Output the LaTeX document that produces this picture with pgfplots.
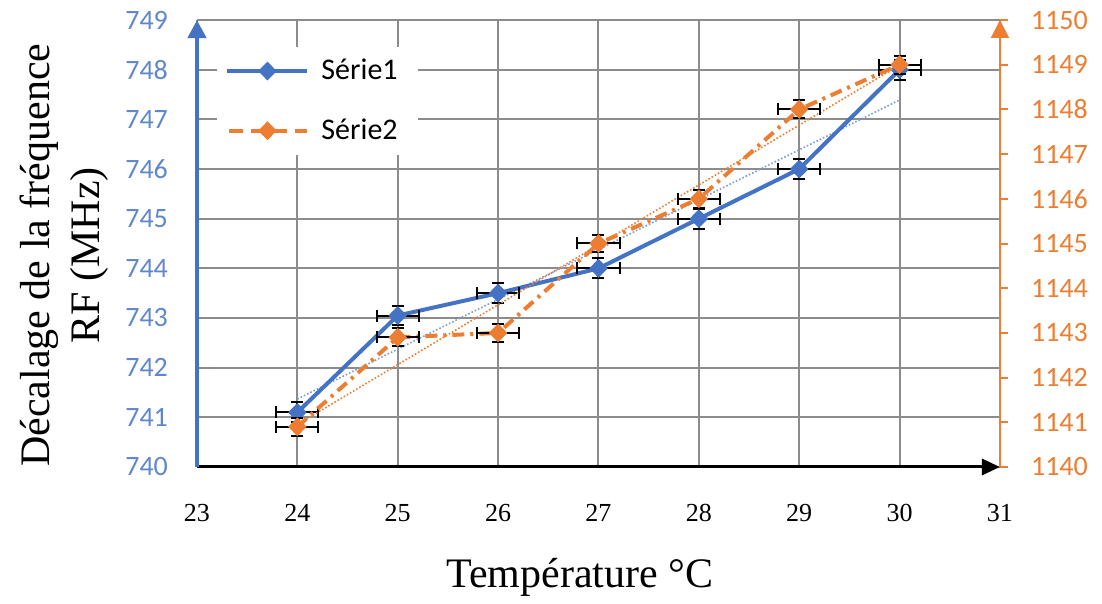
\documentclass[border=0pt]{standalone}
\usepackage{fontspec}
\setmainfont{Liberation Serif}
\newfontfamily\calibri{Carlito}
\usepackage{pgfplots}
\pgfplotsset{compat=1.18}
\usetikzlibrary{arrows.meta}
\definecolor{sblue}{HTML}{4472C4}
\definecolor{sorange}{HTML}{ED7D31}
\definecolor{gridgray}{HTML}{8C8C8C}
\begin{document}
\begin{tikzpicture}
\path[use as bounding box] (-98.5pt,-68.5pt) rectangle (452.5pt,233.5pt);
\pgfplotsset{
  every axis/.append style={scale only axis, width=401.5pt, height=223.5pt,
    xmin=23, xmax=31, /pgf/number format/assume math mode=true,
    /pgf/number format/1000 sep={}},
  myerr/.style={error bars/.cd, x dir=both, x fixed=0.21, y dir=both, y fixed=0.2,
    error bar style={black, solid, line width=1pt},
    error mark options={rotate=90, black, solid, mark size=3pt, line width=1pt}},
}
\begin{axis}[
  ymin=740, ymax=749, ytick={740,...,749}, xtick={23,...,31},
  axis x line=bottom, axis y line=left,
  x axis line style={black, line width=1.5pt, -{Triangle[length=9pt,width=8pt]}},
  y axis line style={sblue, line width=2pt, -{Triangle[length=9pt,width=9pt]}},
  grid=major, major grid style={gridgray, line width=1pt},
  major tick length=0pt,
  yticklabel style={font=\calibri\fontsize{14}{16}\selectfont, text=sblue!85, xshift=-11pt},
  xticklabel style={font=\fontsize{13}{15}\selectfont, yshift=-15pt},
  xlabel={Température °C},
  xlabel style={font=\fontsize{21}{24}\selectfont, at={(axis description cs:0.477,-0.248)}, anchor=center},
  ylabel={Décalage de la fréquence\\RF (MHz)},
  ylabel style={font=\fontsize{21}{25}\selectfont, align=center, at={(axis description cs:-0.165,0.474)}, anchor=center},
  legend style={at={(axis description cs:0.025,0.94)}, anchor=north west, draw=none, fill=white,
    font=\calibri\fontsize{15}{18}\selectfont, row sep=14pt, inner sep=4pt,
    nodes={inner xsep=6pt}},
  legend cell align=left,
  legend image code/.code={\draw[mark repeat=2,mark phase=2] plot coordinates {(0pt,0pt)(20pt,0pt)(40pt,0pt)};},
]
\addplot[sblue!70, line width=0.8pt, densely dotted, forget plot] coordinates {(24,741.37)(30,747.39)};
\addplot[sblue, line width=2pt, mark=diamond*, mark size=3.3pt, mark options={fill=sblue, xscale=1.3}, myerr]
  coordinates {(24,741.1)(25,743.05)(26,743.5)(27,744)(28,745)(29,746)(30,748)};
\addlegendentry{Série1}
\addlegendimage{sorange, line width=2pt, dash pattern=on 7pt off 4pt, dash phase=-1pt, mark=diamond*, mark size=3.3pt, mark options={solid, fill=sorange, xscale=1.3}}
\addlegendentry{Série2}
\end{axis}
\begin{axis}[
  ymin=1140, ymax=1150, ytick={1140,...,1150}, xtick=\empty,
  axis y line=right, axis x line=none,
  y axis line style={sorange, line width=1pt, -{Triangle[length=9pt,width=9pt]}},
  ytick style={sorange, line width=1pt}, tick align=outside, major tick length=4pt,
  yticklabel style={font=\calibri\fontsize{14}{16}\selectfont, text=sorange, xshift=8pt},
]
\addplot[sorange, line width=0.8pt, densely dotted] coordinates {(24,1140.95)(30,1148.99)};
\addplot[sorange, line width=2pt, dash pattern=on 6pt off 3pt on 1.5pt off 3pt, mark=diamond*, mark size=3.3pt, mark options={solid, fill=sorange, xscale=1.3}, myerr]
  coordinates {(24,1140.9)(25,1142.9)(26,1143.0)(27,1145)(28,1146)(29,1148)(30,1149)};
\end{axis}
\end{tikzpicture}
\end{document}
